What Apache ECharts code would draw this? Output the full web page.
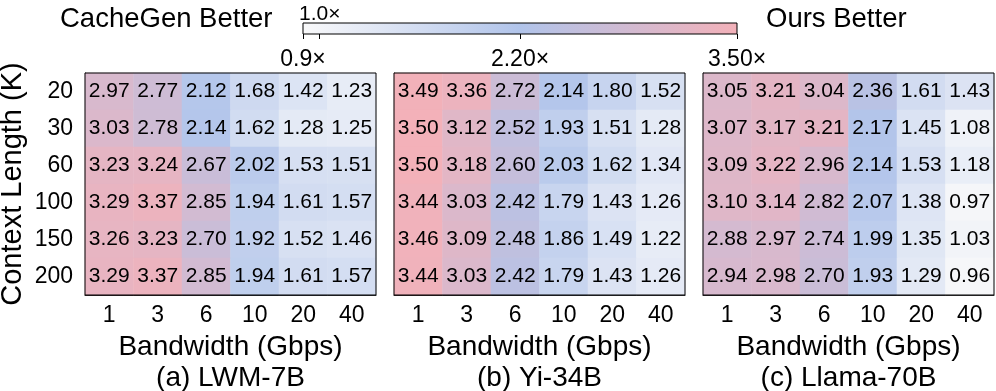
<!DOCTYPE html>
<html>
<head>
<meta charset="utf-8">
<script src="https://cdn.jsdelivr.net/npm/echarts@6/dist/echarts.min.js"></script>
<style>
  html, body { margin: 0; padding: 0; background: #fff; }
  #chart { width: 996px; height: 391px; }
</style>
</head>
<body>
<div id="chart"></div>
<script>
// data
const bandwidth = ['1', '3', '6', '10', '20', '40']
const contextLength = ['20', '30', '60', '100', '150', '200']
const lwm7b = [
  [2.97, 2.77, 2.12, 1.68, 1.42, 1.23],
  [3.03, 2.78, 2.14, 1.62, 1.28, 1.25],
  [3.23, 3.24, 2.67, 2.02, 1.53, 1.51],
  [3.29, 3.37, 2.85, 1.94, 1.61, 1.57],
  [3.26, 3.23, 2.70, 1.92, 1.52, 1.46],
  [3.29, 3.37, 2.85, 1.94, 1.61, 1.57]
]
const yi34b = [
  [3.49, 3.36, 2.72, 2.14, 1.80, 1.52],
  [3.50, 3.12, 2.52, 1.93, 1.51, 1.28],
  [3.50, 3.18, 2.60, 2.03, 1.62, 1.34],
  [3.44, 3.03, 2.42, 1.79, 1.43, 1.26],
  [3.46, 3.09, 2.48, 1.86, 1.49, 1.22],
  [3.44, 3.03, 2.42, 1.79, 1.43, 1.26]
]
const llama70b = [
  [3.05, 3.21, 3.04, 2.36, 1.61, 1.43],
  [3.07, 3.17, 3.21, 2.17, 1.45, 1.08],
  [3.09, 3.22, 2.96, 2.14, 1.53, 1.18],
  [3.10, 3.14, 2.82, 2.07, 1.38, 0.97],
  [2.88, 2.97, 2.74, 1.99, 1.35, 1.03],
  [2.94, 2.98, 2.70, 1.93, 1.29, 0.96]
]
const panelNames = ['(a) LWM-7B', '(b) Yi-34B', '(c) Llama-70B']
const scaleMin = 0.9
const scaleMax = 3.5
const cbarTicks = [0.9, 1.0, 2.2, 3.5]
const cbarBottomLabels = [0.9, 2.2, 3.5]
const cbarTopLabels = [1.0]

const cmap = ['#f9f9fa', '#b1c4ea', '#f3b1b9']
const font = 'Liberation Sans'

const chart = echarts.init(document.getElementById('chart'))

function toCells(rows) {
  const out = []
  rows.forEach((row, yi) => {
    row.forEach((v, xi) => out.push([xi, yi, v]))
  })
  return out
}

function fmtX(v) {
  return (Math.abs(v - 0.9) < 1e-6 || Math.abs(v - 1) < 1e-6 ? v.toFixed(1) : v.toFixed(2)) + '×'
}

const lefts = [85, 394, 703]
const grids = lefts.map(l => ({
  left: l, top: 73, width: 291, height: 222,
  outerBoundsMode: 'none', containLabel: false,
  show: true, borderColor: '#000', borderWidth: 1, z: 5
}))
grids.push({ left: 303, top: 23, width: 434, height: 11, outerBoundsMode: 'none', containLabel: false })

const xAxes = lefts.map((l, i) => ({
  type: 'category',
  gridIndex: i,
  data: bandwidth,
  axisLine: { show: true, lineStyle: { color: '#000' } },
  axisTick: { alignWithLabel: true, length: 6, lineStyle: { color: '#000' } },
  axisLabel: { color: '#000', fontSize: 23, margin: 9, fontFamily: font },
  name: 'Bandwidth (Gbps)\n' + panelNames[i],
  nameLocation: 'middle',
  nameGap: 35,
  nameTextStyle: { color: '#000', fontSize: 28, lineHeight: 31, fontFamily: font }
}))
xAxes.push({
  type: 'value', gridIndex: 3, min: scaleMin, max: scaleMax, position: 'bottom',
  axisLine: { show: false },
  splitLine: { show: false },
  axisTick: { show: true, length: 5, customValues: cbarTicks, lineStyle: { color: '#000' } },
  axisLabel: { customValues: cbarBottomLabels, formatter: fmtX, color: '#000', fontSize: 23, margin: 14, fontFamily: font }
})
xAxes.push({
  type: 'value', gridIndex: 3, min: scaleMin, max: scaleMax, position: 'top',
  axisLine: { show: false },
  splitLine: { show: false },
  axisTick: { show: false },
  axisLabel: { customValues: cbarTopLabels, formatter: fmtX, color: '#000', fontSize: 21, margin: -2, fontFamily: font }
})

const yAxes = lefts.map((l, i) => ({
  type: 'category',
  gridIndex: i,
  data: contextLength,
  inverse: true,
  axisLine: { show: true, lineStyle: { color: '#000' } },
  axisTick: { alignWithLabel: true, length: 6, lineStyle: { color: '#000' } },
  axisLabel: { show: i === 0, color: '#000', fontSize: 23, margin: 12, fontFamily: font },
  name: i === 0 ? 'Context Length (K)' : '',
  nameLocation: 'middle',
  nameGap: 58,
  nameTextStyle: { color: '#000', fontSize: 29, fontFamily: font }
}))
yAxes.push({ type: 'value', gridIndex: 3, min: 0, max: 1, show: false })

const heatSeries = [lwm7b, yi34b, llama70b].map((rows, i) => ({
  type: 'heatmap',
  xAxisIndex: i,
  yAxisIndex: i,
  data: toCells(rows),
  label: {
    show: true,
    color: '#000',
    fontSize: 21,
    fontFamily: font,
    formatter: p => p.value[2].toFixed(2)
  },
  emphasis: { disabled: true }
}))

const titleStyle = { fontSize: 27.5, fontWeight: 'normal', color: '#000', fontFamily: font }

chart.setOption({
  animation: false,
  textStyle: { fontFamily: font },
  title: [
    { text: 'CacheGen Better', left: 60, top: 5, padding: 0, textStyle: titleStyle },
    { text: 'Ours Better', left: 766, top: 5, padding: 0, textStyle: titleStyle }
  ],
  grid: grids,
  xAxis: xAxes,
  yAxis: yAxes,
  visualMap: {
    show: false,
    type: 'continuous',
    min: scaleMin,
    max: scaleMax,
    dimension: 2,
    seriesIndex: [0, 1, 2],
    inRange: { color: cmap }
  },
  series: heatSeries.concat([{
    type: 'custom',
    xAxisIndex: 3,
    yAxisIndex: 3,
    silent: true,
    data: [[scaleMin, 0, scaleMax, 1]],
    renderItem(params, api) {
      const p0 = api.coord([api.value(0), api.value(1)])
      const p1 = api.coord([api.value(2), api.value(3)])
      return {
        type: 'rect',
        shape: { x: p0[0], y: p1[1], width: p1[0] - p0[0], height: p0[1] - p1[1] },
        style: {
          fill: new echarts.graphic.LinearGradient(0, 0, 1, 0, [
            { offset: 0, color: cmap[0] },
            { offset: 0.5, color: cmap[1] },
            { offset: 1, color: cmap[2] }
          ]),
          stroke: '#000',
          lineWidth: 1
        }
      }
    }
  }])
})
</script>
</body>
</html>
